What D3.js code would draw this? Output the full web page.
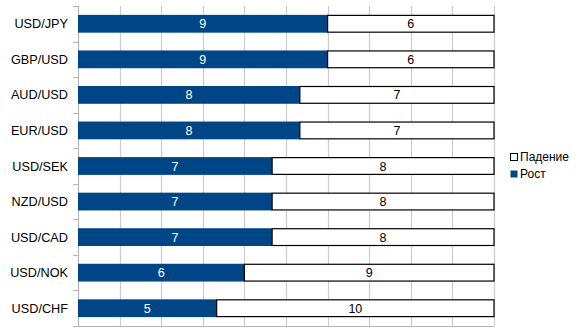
<!DOCTYPE html>
<html>
<head>
<meta charset="utf-8">
<script src="https://cdn.jsdelivr.net/npm/d3@7"></script>
<style>
  html, body { margin: 0; padding: 0; background: #fff; }
  svg { display: block; font-family: "Liberation Sans", Arial, sans-serif; }
</style>
</head>
<body>
<svg id="chart" width="582" height="332"></svg>
<script>
// Currency pairs and how many periods each rose / fell
const pairs = ["USD/JPY", "GBP/USD", "AUD/USD", "EUR/USD", "USD/SEK", "NZD/USD", "USD/CAD", "USD/NOK", "USD/CHF"];
const rise  = [9, 9, 8, 8, 7, 7, 7, 6, 5];
const fall  = [6, 6, 7, 7, 8, 8, 8, 9, 10];
const seriesNames = ["Рост", "Падение"];
const gridTicks = d3.range(0, 1.0001, 0.1);

const svg = d3.select("#chart");
const margin = { left: 78, right: 88, top: 6, bottom: 6 };
const W = 582, H = 332;

const rows = pairs.map((p, i) => {
  const total = rise[i] + fall[i];
  return { pair: p, rise: rise[i], fall: fall[i], total };
});

// 100% stacked: each bar shows shares of its total
const x = d3.scaleLinear().domain([0, 1]).range([margin.left, W - margin.right]);
const y = d3.scaleBand().domain(pairs).range([margin.top, H - margin.bottom]).paddingInner(0.5).paddingOuter(0.25);

// vertical gridlines
svg.append("g").selectAll("line").data(gridTicks).join("line")
  .attr("x1", d => Math.round(x(d)) + 0.5).attr("x2", d => Math.round(x(d)) + 0.5)
  .attr("y1", margin.top).attr("y2", H - margin.bottom)
  .attr("stroke", "#cccccc").attr("stroke-width", 1.2);

// bottom axis line
svg.append("line")
  .attr("x1", x(0)).attr("x2", x(1))
  .attr("y1", H - margin.bottom + 0.5).attr("y2", H - margin.bottom + 0.5)
  .attr("stroke", "#b3b3b3");

// category axis with ticks at band boundaries
const yAxis = svg.append("g");
yAxis.append("line")
  .attr("x1", x(0) + 0.5).attr("x2", x(0) + 0.5)
  .attr("y1", margin.top).attr("y2", H - margin.bottom)
  .attr("stroke", "#b3b3b3");
const step = (H - margin.top - margin.bottom) / pairs.length;
yAxis.selectAll("line.tick").data(d3.range(pairs.length + 1)).join("line")
  .attr("class", "tick")
  .attr("x1", x(0) - 5).attr("x2", x(0))
  .attr("y1", i => Math.round(margin.top + i * step) + 0.5)
  .attr("y2", i => Math.round(margin.top + i * step) + 0.5)
  .attr("stroke", "#b3b3b3");
yAxis.selectAll("text").data(pairs).join("text")
  .attr("x", x(0) - 10)
  .attr("y", d => y(d) + y.bandwidth() / 2)
  .attr("dy", "0.36em")
  .attr("text-anchor", "end")
  .attr("font-size", 12.7)
  .attr("fill", "#000")
  .text(d => d);

// bars
const bars = svg.append("g").selectAll("g").data(rows).join("g");
bars.append("rect")
  .attr("x", x(0))
  .attr("y", d => y(d.pair))
  .attr("width", d => x(d.rise / d.total) - x(0))
  .attr("height", y.bandwidth())
  .attr("fill", "#004586");
bars.append("rect")
  .attr("x", d => x(d.rise / d.total))
  .attr("y", d => y(d.pair) + 0.5)
  .attr("width", d => x(1) - x(d.rise / d.total))
  .attr("height", y.bandwidth() - 1)
  .attr("fill", "#fff")
  .attr("stroke", "#000")
  .attr("stroke-width", 1.2);

// value labels
bars.append("text")
  .attr("x", d => (x(0) + x(d.rise / d.total)) / 2)
  .attr("y", d => y(d.pair) + y.bandwidth() / 2)
  .attr("dy", "0.36em").attr("text-anchor", "middle")
  .attr("font-size", 12.5).attr("fill", "#fff")
  .text(d => d.rise);
bars.append("text")
  .attr("x", d => (x(d.rise / d.total) + x(1)) / 2)
  .attr("y", d => y(d.pair) + y.bandwidth() / 2)
  .attr("dy", "0.36em").attr("text-anchor", "middle")
  .attr("font-size", 12.5).attr("fill", "#000")
  .text(d => d.fall);

// legend
const legend = svg.append("g").attr("transform", "translate(510,153)");
const legendItems = [
  { name: seriesNames[1], fill: "#fff", stroke: "#000" },
  { name: seriesNames[0], fill: "#004586", stroke: "none" }
];
const li = legend.selectAll("g").data(legendItems).join("g")
  .attr("transform", (d, i) => `translate(0,${i * 17})`);
li.append("rect")
  .attr("x", 0.5).attr("y", 0.5).attr("width", 7).attr("height", 7)
  .attr("fill", d => d.fill).attr("stroke", d => d.stroke);
li.append("text")
  .attr("x", 10).attr("y", 4)
  .attr("dy", "0.36em")
  .attr("font-size", 12).attr("fill", "#000")
  .text(d => d.name);
</script>
</body>
</html>
